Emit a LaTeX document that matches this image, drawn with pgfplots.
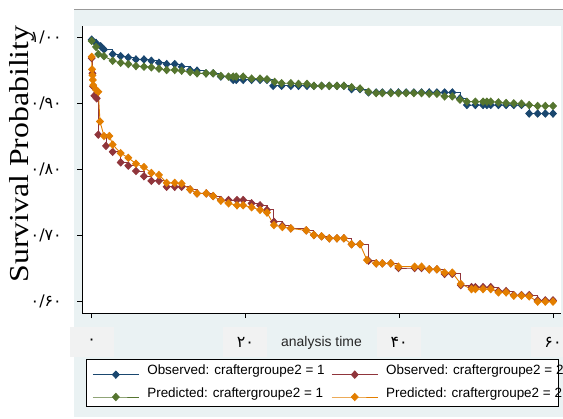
\documentclass[border=0pt]{standalone}
\usepackage{pgfplots}
\pgfplotsset{compat=1.18}
\usepackage{fontspec}
\setmainfont{Liberation Sans}
\newfontfamily\seriffont{Liberation Serif}
\newfontfamily\fafont[Script=Arabic]{DejaVu Sans}
\definecolor{sNavy}{RGB}{26,71,111}
\definecolor{sMaroon}{RGB}{144,53,59}
\definecolor{sGreen}{RGB}{85,117,47}
\definecolor{sOrange}{RGB}{227,126,0}
\definecolor{bgcol}{RGB}{234,242,243}
\definecolor{patchcol}{RGB}{241,242,242}

\begin{document}
\begin{tikzpicture}[x=1bp,y=1bp]
\path[use as bounding box] (0,0) rectangle (563,418);
\fill[white] (0,0) rectangle (563,418);
\fill[bgcol] (74,1) rectangle (563,409);
\draw[black!40, line width=0.8bp] (74,409) -- (563,409);
\node[rotate=90, font=\seriffont\fontsize{27.5}{28}\selectfont, inner sep=0pt] at (22,264) {\scalebox{1.16}[1]{Survival Probability}};
\begin{axis}[
  at={(82bp,105bp)}, anchor=south west,
  scale only axis, width=479bp, height=287bp,
  xmin=-1.26, xmax=61.04, ymin=0.5818, ymax=1.0167,
  axis x line*=bottom, axis y line*=left,
  axis line style={black, line width=0.8bp},
  axis background/.style={fill=white},
  tick align=outside, major tick length=5bp,
  tick style={black, line width=0.8bp},
  xtick={0,20,40,60}, xticklabels={۰,۲۰,۴۰,۶۰},
  ytick={0.6,0.7,0.8,0.9,1.0}, yticklabels={۰/۶۰,۰/۷۰,۰/۸۰,۰/۹۰,۱/۰۰},
  ticklabel style={font=\fafont\fontsize{16}{17}\selectfont},
  yticklabel style={anchor=east, inner sep=0pt, xshift=-15bp},
  xticklabel style={anchor=north, fill=patchcol, minimum width=44bp, minimum height=30bp, inner sep=0pt, yshift=-9bp},
  xlabel={analysis time},
  xlabel style={at={(axis description cs:0.5,0)}, anchor=center, yshift=-30bp, font=\fontsize{14}{14}\selectfont, text=black!85},
  legend columns=2,
  legend cell align=left,
  legend image code/.code={\draw[mark repeat=2,mark phase=2,#1] plot coordinates {(0bp,0bp) (23bp,0bp) (46bp,0bp)};},
  legend style={at={(axis description cs:0.00835,-0.1603)}, anchor=north west, draw=black, line width=0.8bp, fill=white,
    font=\fontsize{13.5}{14}\selectfont, inner xsep=6bp, inner ysep=5.5bp, row sep=9bp, column sep=0pt,
    nodes={inner sep=0pt, anchor=base},
    /tikz/every odd column/.style={column sep=8bp}, /tikz/every even column/.style={column sep=18bp}},
  every axis plot/.append style={line width=0.9bp, mark=diamond*, mark size=3.6bp, mark options={solid, xscale=1.25}},
]
% observed, group 1
\addplot[sNavy, const plot] coordinates {
(0,0.996) (0.56,0.991) (1.17,0.986) (1.6,0.981) (2.73,0.974) (3.77,0.971) (4.76,0.969) (5.76,0.966) (6.8,0.966)
(7.76,0.964) (8.75,0.961) (9.75,0.959) (10.8,0.959) (11.7,0.955) (12.8,0.950) (13.7,0.949) (14.87,0.945) (15.8,0.945)
(16.8,0.940) (18.4,0.935) (18.8,0.935) (19.7,0.935) (20.8,0.935) (21.9,0.935) (22.8,0.935) (23.6,0.926) (24.7,0.926)
(25.9,0.926) (26.9,0.926) (28,0.926) (28.9,0.926) (29.9,0.926) (30.9,0.926) (31.9,0.926) (32.8,0.926) (33.8,0.921)
(34.9,0.921) (36,0.916) (37,0.916) (37.8,0.916) (38.9,0.916) (39.9,0.916) (40.9,0.916) (41.9,0.916) (42.9,0.916)
(43.9,0.916) (44.9,0.916) (45.9,0.916) (46.9,0.916) (47.9,0.907) (48.8,0.897) (49.9,0.897) (50.9,0.897) (51.4,0.897)
(51.9,0.897) (52.9,0.897) (53.9,0.897) (54.9,0.897) (55.9,0.897) (56.9,0.884) (58,0.884) (59,0.884) (60,0.884)};
\addlegendentry{\makebox[166bp][l]{Observed: craftergroupe2 = 1}}
% observed, group 2
\addplot[sMaroon, const plot] coordinates {
(0,0.968) (0.1,0.945) (0.2,0.925) (0.35,0.911) (0.65,0.907) (0.86,0.852) (1.86,0.835) (2.73,0.826) (3.77,0.810)
(4.76,0.805) (5.76,0.797) (6.8,0.789) (7.76,0.782) (8.75,0.782) (9.75,0.773) (10.8,0.773) (11.7,0.773) (12.8,0.769)
(13.7,0.763) (14.9,0.763) (15.8,0.759) (16.8,0.753) (17.8,0.753) (18.9,0.753) (19.7,0.753) (20.8,0.748) (21.9,0.745)
(22.8,0.738) (23.7,0.720) (24.8,0.714) (25.9,0.710) (27.9,0.707) (28.9,0.700) (29.9,0.698) (30.9,0.695) (31.9,0.695)
(32.8,0.695) (33.8,0.686) (34.9,0.686) (36,0.661) (37,0.657) (37.8,0.657) (38.9,0.657) (39.9,0.650) (42,0.650)
(42.9,0.650) (43.9,0.648) (44.9,0.648) (45.9,0.641) (46.9,0.641) (48,0.624) (49.4,0.621) (49.9,0.621) (50.9,0.621)
(51.9,0.621) (52.9,0.615) (53.9,0.615) (54.9,0.609) (55.9,0.609) (56.9,0.609) (58,0.601) (59,0.601) (60,0.601)};
\addlegendentry{\makebox[166bp][l]{Observed: craftergroupe2 = 2}}
% predicted, group 1
\addplot[sGreen] coordinates {
(0,0.994) (0.56,0.985) (0.86,0.974) (1.6,0.971) (2.73,0.964) (3.77,0.961) (4.76,0.959) (5.76,0.956) (6.8,0.955)
(7.76,0.954) (8.75,0.952) (9.75,0.950) (10.8,0.950) (11.7,0.949) (12.8,0.947) (13.7,0.945) (14.87,0.945) (15.8,0.945)
(16.8,0.941) (17.8,0.940) (18.4,0.940) (18.8,0.940) (19.7,0.940) (20.8,0.937) (21.9,0.937) (22.8,0.936) (23.8,0.932)
(24.7,0.930) (25.9,0.930) (26.9,0.929) (28,0.929) (28.9,0.926) (29.9,0.926) (30.9,0.926) (31.9,0.926) (32.8,0.926)
(33.8,0.924) (34.9,0.922) (36,0.917) (37,0.915) (37.8,0.915) (38.9,0.915) (39.9,0.915) (40.9,0.915) (41.9,0.915)
(42.9,0.915) (43.9,0.914) (44.9,0.914) (45.9,0.910) (46.9,0.910) (47.9,0.905) (48.8,0.902) (49.9,0.902) (50.9,0.902)
(51.4,0.902) (51.9,0.902) (52.9,0.901) (53.9,0.900) (54.9,0.8995) (55.9,0.899) (56.9,0.897) (58,0.8955) (59,0.8955) (60,0.8955)};
\addlegendentry{\makebox[166bp][l]{Predicted: craftergroupe2 = 1}}
% predicted, group 2
\addplot[sOrange] coordinates {
(0,0.970) (0.05,0.951) (0.1,0.942) (0.15,0.935) (0.2,0.927) (0.56,0.920) (0.86,0.917) (1.08,0.872) (1.6,0.850)
(2.3,0.850) (2.73,0.837) (3.77,0.824) (4.76,0.817) (5.76,0.808) (6.8,0.803) (7.76,0.794) (8.75,0.791) (9.75,0.779)
(10.8,0.779) (11.7,0.778) (12.8,0.769) (13.7,0.763) (14.9,0.763) (15.8,0.759) (16.8,0.752) (17.8,0.748) (18.9,0.745)
(19.7,0.745) (20.8,0.742) (21.9,0.738) (22.8,0.734) (23.7,0.715) (24.8,0.712) (25.9,0.710) (27.9,0.707) (28.9,0.700)
(29.9,0.698) (30.9,0.695) (31.9,0.695) (32.8,0.695) (33.8,0.686) (34.9,0.686) (35.8,0.662) (37,0.657) (37.8,0.657)
(38.9,0.657) (39.9,0.652) (42,0.652) (42.9,0.652) (43.9,0.648) (44.9,0.648) (45.9,0.643) (46.9,0.643) (48,0.626)
(49.4,0.618) (49.9,0.618) (50.9,0.618) (51.9,0.618) (52.9,0.613) (53.9,0.613) (54.9,0.608) (55.9,0.608) (56.9,0.607)
(58,0.599) (59,0.599) (60,0.599)};
\addlegendentry{\makebox[166bp][l]{Predicted: craftergroupe2 = 2}}
\end{axis}
\end{tikzpicture}
\end{document}
